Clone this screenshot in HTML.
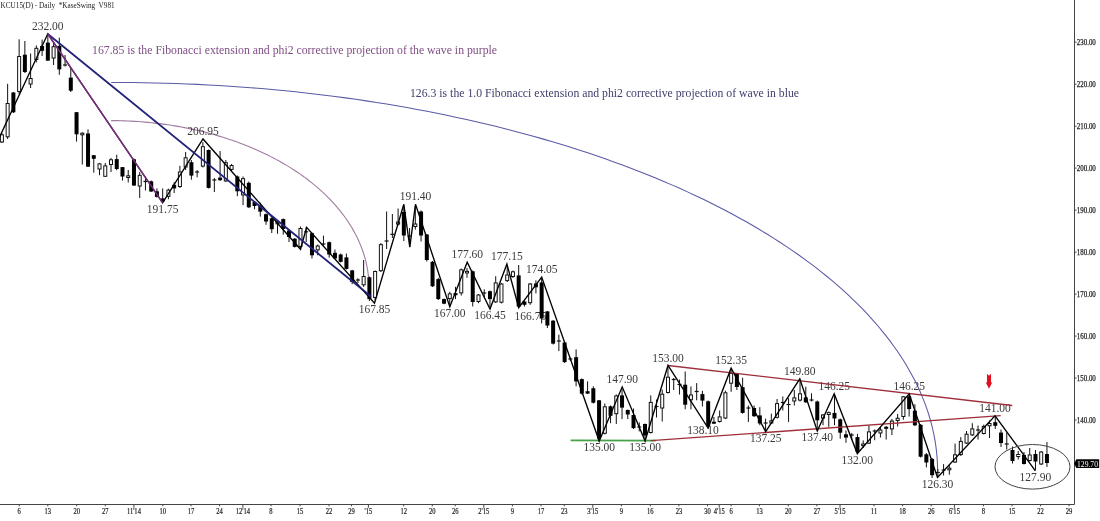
<!DOCTYPE html><html><head><meta charset="utf-8"><style>html,body{margin:0;padding:0;background:#fff;overflow:hidden}svg{display:block;will-change:transform} text{font-family:"Liberation Serif",serif}</style></head><body><svg width="1100" height="521" viewBox="0 0 1100 521"><rect width="1100" height="521" fill="#fff"/><text x="0.6" y="8.4" font-size="8.6" fill="#222" style="white-space:pre" textLength="114" lengthAdjust="spacingAndGlyphs">KCU15(D) - Daily  *KaseSwing  V981</text><text x="92" y="54" font-size="12" fill="#7e4e84" textLength="405" lengthAdjust="spacingAndGlyphs">167.85 is the Fibonacci extension and phi2 corrective projection of the wave in purple</text><text x="410" y="97" font-size="12" fill="#40406e" textLength="389" lengthAdjust="spacingAndGlyphs">126.3 is the 1.0 Fibonacci extension and phi2 corrective projection of wave in blue</text><polyline points="111.20,82.53 121.99,82.53 132.78,82.59 143.56,82.72 154.34,82.92 165.12,83.18 175.88,83.52 186.64,83.91 197.38,84.38 208.11,84.91 218.83,85.51 229.52,86.18 240.20,86.91 250.86,87.71 261.49,88.58 272.10,89.51 282.68,90.51 293.23,91.58 303.76,92.71 314.25,93.90 324.70,95.17 335.12,96.49 345.50,97.88 355.85,99.34 366.15,100.86 376.41,102.44 386.62,104.09 396.79,105.80 406.91,107.58 416.97,109.42 426.99,111.32 436.95,113.28 446.86,115.31 456.71,117.39 466.51,119.54 476.24,121.75 485.91,124.02 495.51,126.35 505.05,128.74 514.53,131.19 523.93,133.69 533.27,136.26 542.53,138.88 551.72,141.57 560.83,144.30 569.87,147.10 578.83,149.95 587.71,152.86 596.50,155.82 605.22,158.84 613.85,161.91 622.39,165.03 630.85,168.21 639.22,171.44 647.50,174.72 655.68,178.05 663.78,181.44 671.77,184.87 679.68,188.35 687.48,191.89 695.19,195.47 702.80,199.09 710.30,202.77 717.70,206.49 725.00,210.26 732.20,214.07 739.29,217.93 746.27,221.83 753.14,225.78 759.90,229.77 766.55,233.80 773.09,237.87 779.51,241.98 785.82,246.13 792.01,250.32 798.09,254.54 804.05,258.81 809.89,263.11 815.61,267.45 821.21,271.82 826.69,276.23 832.05,280.67 837.28,285.15 842.39,289.66 847.37,294.19 852.23,298.76 856.96,303.36 861.56,307.99 866.03,312.65 870.37,317.33 874.58,322.04 878.67,326.78 882.62,331.54 886.43,336.33 890.12,341.14 893.67,345.97 897.08,350.82 900.37,355.70 903.51,360.59 906.52,365.50 909.40,370.44 912.13,375.39 914.73,380.35 917.19,385.33 919.52,390.33 921.70,395.34 923.74,400.37 925.65,405.40 927.42,410.45 929.04,415.51 930.53,420.58 931.87,425.65 933.07,430.74 934.14,435.83 935.06,440.93 935.84,446.03 936.48,451.14 936.97,456.25 937.33,461.37 937.54,466.48 937.61,471.60" fill="none" stroke="#5a5aa6" stroke-width="1.05"/><polyline points="111.10,120.60 114.48,120.62 117.86,120.67 121.24,120.75 124.61,120.86 127.99,120.99 131.36,121.16 134.73,121.35 138.09,121.57 141.45,121.82 144.80,122.10 148.15,122.40 151.49,122.73 154.82,123.10 158.15,123.49 161.47,123.90 164.77,124.35 168.07,124.82 171.36,125.32 174.64,125.85 177.91,126.41 181.17,126.99 184.41,127.60 187.65,128.24 190.87,128.91 194.07,129.60 197.26,130.32 200.44,131.07 203.60,131.84 206.74,132.64 209.87,133.47 212.98,134.32 216.08,135.20 219.15,136.10 222.21,137.03 225.25,137.99 228.27,138.97 231.26,139.98 234.24,141.01 237.20,142.07 240.13,143.15 243.04,144.25 245.93,145.39 248.80,146.54 251.64,147.72 254.46,148.92 257.26,150.15 260.03,151.40 262.77,152.67 265.49,153.97 268.18,155.29 270.84,156.63 273.48,157.99 276.09,159.38 278.67,160.79 281.22,162.22 283.75,163.67 286.24,165.14 288.70,166.63 291.13,168.15 293.54,169.68 295.91,171.24 298.25,172.81 300.55,174.40 302.83,176.02 305.07,177.65 307.28,179.30 309.45,180.97 311.59,182.66 313.70,184.36 315.77,186.08 317.81,187.82 319.81,189.58 321.77,191.35 323.70,193.14 325.60,194.95 327.45,196.77 329.27,198.61 331.05,200.46 332.80,202.33 334.50,204.21 336.17,206.11 337.80,208.02 339.39,209.94 340.94,211.88 342.45,213.83 343.93,215.79 345.36,217.77 346.75,219.75 348.10,221.75 349.41,223.76 350.68,225.78 351.91,227.81 353.10,229.85 354.25,231.90 355.35,233.96 356.42,236.03 357.44,238.11 358.42,240.20 359.35,242.29 360.25,244.39 361.10,246.50 361.91,248.62 362.68,250.74 363.40,252.87 364.08,255.01 364.71,257.15 365.31,259.30 365.86,261.45 366.36,263.60 366.83,265.76 367.24,267.92 367.62,270.09 367.95,272.26 368.24,274.43 368.48,276.61 368.68,278.78 368.83,280.96 368.94,283.14 369.01,285.32 369.03,287.50" fill="none" stroke="#a07ca0" stroke-width="1.1"/><text x="47.8" y="30.0" font-size="11.5" fill="#3a3a3a" text-anchor="middle">232.00</text><text x="162.6" y="213.1" font-size="11.5" fill="#3a3a3a" text-anchor="middle">191.75</text><text x="203" y="135.2" font-size="11.5" fill="#3a3a3a" text-anchor="middle">206.95</text><text x="415.5" y="200.4" font-size="11.5" fill="#3a3a3a" text-anchor="middle">191.40</text><text x="374.5" y="313.4" font-size="11.5" fill="#3a3a3a" text-anchor="middle">167.85</text><text x="449.8" y="317.0" font-size="11.5" fill="#3a3a3a" text-anchor="middle">167.00</text><text x="467.2" y="258.4" font-size="11.5" fill="#3a3a3a" text-anchor="middle">177.60</text><text x="506.9" y="260.3" font-size="11.5" fill="#3a3a3a" text-anchor="middle">177.15</text><text x="490" y="319.3" font-size="11.5" fill="#3a3a3a" text-anchor="middle">166.45</text><text x="541.7" y="273.3" font-size="11.5" fill="#3a3a3a" text-anchor="middle">174.05</text><text x="530.4" y="319.7" font-size="11.5" fill="#3a3a3a" text-anchor="middle">166.75</text><text x="622.2" y="383.1" font-size="11.5" fill="#3a3a3a" text-anchor="middle">147.90</text><text x="599.2" y="451.3" font-size="11.5" fill="#3a3a3a" text-anchor="middle">135.00</text><text x="645.1" y="451.3" font-size="11.5" fill="#3a3a3a" text-anchor="middle">135.00</text><text x="668" y="361.6" font-size="11.5" fill="#3a3a3a" text-anchor="middle">153.00</text><text x="703" y="433.9" font-size="11.5" fill="#3a3a3a" text-anchor="middle">138.10</text><text x="731.1" y="364.4" font-size="11.5" fill="#3a3a3a" text-anchor="middle">152.35</text><text x="765.7" y="441.9" font-size="11.5" fill="#3a3a3a" text-anchor="middle">137.25</text><text x="799.8" y="375.1" font-size="11.5" fill="#3a3a3a" text-anchor="middle">149.80</text><text x="817.3" y="441.2" font-size="11.5" fill="#3a3a3a" text-anchor="middle">137.40</text><text x="834.2" y="390.0" font-size="11.5" fill="#3a3a3a" text-anchor="middle">146.25</text><text x="857.3" y="463.9" font-size="11.5" fill="#3a3a3a" text-anchor="middle">132.00</text><text x="909.2" y="390.0" font-size="11.5" fill="#3a3a3a" text-anchor="middle">146.25</text><text x="937.5" y="487.8" font-size="11.5" fill="#3a3a3a" text-anchor="middle">126.30</text><text x="995" y="412.0" font-size="11.5" fill="#3a3a3a" text-anchor="middle">141.00</text><text x="1035.4" y="481.1" font-size="11.5" fill="#3a3a3a" text-anchor="middle">127.90</text><g><line x1="1.90" y1="133.0" x2="1.90" y2="143.0" stroke="#111" stroke-width="1"/><rect x="0.40" y="134.80" width="3.0" height="7.20" fill="#fff" stroke="#111" stroke-width="1"/><line x1="7.64" y1="83.8" x2="7.64" y2="139.0" stroke="#111" stroke-width="1"/><rect x="6.14" y="103.50" width="3.0" height="33.30" fill="#fff" stroke="#111" stroke-width="1"/><line x1="13.38" y1="92.0" x2="13.38" y2="113.0" stroke="#111" stroke-width="1"/><rect x="11.38" y="92.50" width="4.0" height="19.80" fill="#000"/><line x1="19.13" y1="39.3" x2="19.13" y2="94.0" stroke="#111" stroke-width="1"/><rect x="17.63" y="56.50" width="3.0" height="35.00" fill="#fff" stroke="#111" stroke-width="1"/><line x1="24.87" y1="41.0" x2="24.87" y2="73.0" stroke="#111" stroke-width="1"/><rect x="22.87" y="54.70" width="4.0" height="17.30" fill="#000"/><line x1="30.61" y1="53.5" x2="30.61" y2="88.0" stroke="#111" stroke-width="1"/><rect x="29.11" y="78.50" width="3.0" height="5.50" fill="#fff" stroke="#111" stroke-width="1"/><line x1="36.35" y1="45.4" x2="36.35" y2="62.5" stroke="#111" stroke-width="1"/><rect x="34.85" y="48.30" width="3.0" height="11.20" fill="#fff" stroke="#111" stroke-width="1"/><line x1="42.09" y1="39.6" x2="42.09" y2="56.0" stroke="#111" stroke-width="1"/><rect x="40.09" y="45.90" width="4.0" height="4.90" fill="#000"/><line x1="47.84" y1="34.0" x2="47.84" y2="61.0" stroke="#111" stroke-width="1"/><rect x="45.84" y="42.60" width="4.0" height="18.00" fill="#000"/><line x1="53.58" y1="43.0" x2="53.58" y2="65.0" stroke="#111" stroke-width="1"/><rect x="52.08" y="46.70" width="3.0" height="11.30" fill="#fff" stroke="#111" stroke-width="1"/><line x1="59.32" y1="37.7" x2="59.32" y2="74.8" stroke="#111" stroke-width="1"/><rect x="57.32" y="45.90" width="4.0" height="23.50" fill="#000"/><line x1="65.06" y1="55.0" x2="65.06" y2="66.5" stroke="#111" stroke-width="1"/><line x1="63.06" y1="65.0" x2="67.06" y2="65.0" stroke="#111" stroke-width="1.2"/><line x1="70.80" y1="68.3" x2="70.80" y2="92.0" stroke="#111" stroke-width="1"/><rect x="68.80" y="77.60" width="4.0" height="13.10" fill="#000"/><line x1="76.55" y1="112.0" x2="76.55" y2="141.6" stroke="#111" stroke-width="1"/><rect x="74.55" y="112.20" width="4.0" height="22.10" fill="#000"/><line x1="82.29" y1="132.3" x2="82.29" y2="164.5" stroke="#111" stroke-width="1"/><rect x="80.79" y="133.20" width="3.0" height="1.60" fill="#fff" stroke="#111" stroke-width="1"/><line x1="88.03" y1="129.4" x2="88.03" y2="167.0" stroke="#111" stroke-width="1"/><rect x="86.03" y="133.50" width="4.0" height="33.20" fill="#000"/><line x1="93.77" y1="155.0" x2="93.77" y2="172.7" stroke="#111" stroke-width="1"/><rect x="91.77" y="155.20" width="4.0" height="3.60" fill="#000"/><line x1="99.51" y1="163.0" x2="99.51" y2="175.2" stroke="#111" stroke-width="1"/><rect x="98.01" y="163.90" width="3.0" height="5.10" fill="#fff" stroke="#111" stroke-width="1"/><line x1="105.26" y1="163.0" x2="105.26" y2="177.0" stroke="#111" stroke-width="1"/><rect x="103.76" y="165.90" width="3.0" height="10.40" fill="#fff" stroke="#111" stroke-width="1"/><line x1="111.00" y1="158.0" x2="111.00" y2="172.0" stroke="#111" stroke-width="1"/><rect x="109.50" y="159.80" width="3.0" height="4.70" fill="#fff" stroke="#111" stroke-width="1"/><line x1="116.74" y1="154.7" x2="116.74" y2="170.3" stroke="#111" stroke-width="1"/><rect x="114.74" y="159.10" width="4.0" height="9.90" fill="#000"/><line x1="122.48" y1="167.0" x2="122.48" y2="180.5" stroke="#111" stroke-width="1"/><rect x="120.48" y="167.10" width="4.0" height="9.40" fill="#000"/><line x1="128.22" y1="170.0" x2="128.22" y2="182.5" stroke="#111" stroke-width="1"/><rect x="126.72" y="175.80" width="3.0" height="1.70" fill="#fff" stroke="#111" stroke-width="1"/><line x1="133.97" y1="158.5" x2="133.97" y2="186.0" stroke="#111" stroke-width="1"/><rect x="131.97" y="159.30" width="4.0" height="26.20" fill="#000"/><line x1="139.71" y1="172.0" x2="139.71" y2="198.0" stroke="#111" stroke-width="1"/><rect x="138.21" y="175.30" width="3.0" height="10.70" fill="#fff" stroke="#111" stroke-width="1"/><line x1="145.45" y1="179.0" x2="145.45" y2="190.5" stroke="#111" stroke-width="1"/><line x1="143.45" y1="181.5" x2="147.45" y2="181.5" stroke="#111" stroke-width="1.2"/><line x1="151.19" y1="180.5" x2="151.19" y2="192.0" stroke="#111" stroke-width="1"/><rect x="149.19" y="181.30" width="4.0" height="10.20" fill="#000"/><line x1="156.93" y1="188.4" x2="156.93" y2="197.5" stroke="#111" stroke-width="1"/><rect x="154.93" y="191.30" width="4.0" height="5.60" fill="#000"/><line x1="162.68" y1="188.4" x2="162.68" y2="202.6" stroke="#111" stroke-width="1"/><rect x="160.68" y="198.40" width="4.0" height="3.10" fill="#000"/><line x1="168.42" y1="188.7" x2="168.42" y2="199.2" stroke="#111" stroke-width="1"/><rect x="166.92" y="190.10" width="3.0" height="6.30" fill="#fff" stroke="#111" stroke-width="1"/><line x1="174.16" y1="182.2" x2="174.16" y2="193.0" stroke="#111" stroke-width="1"/><rect x="172.16" y="184.80" width="4.0" height="3.60" fill="#000"/><line x1="179.90" y1="165.8" x2="179.90" y2="188.0" stroke="#111" stroke-width="1"/><rect x="178.40" y="172.00" width="3.0" height="14.50" fill="#fff" stroke="#111" stroke-width="1"/><line x1="185.64" y1="152.0" x2="185.64" y2="170.0" stroke="#111" stroke-width="1"/><rect x="184.14" y="157.80" width="3.0" height="9.20" fill="#fff" stroke="#111" stroke-width="1"/><line x1="191.39" y1="160.0" x2="191.39" y2="179.7" stroke="#111" stroke-width="1"/><rect x="189.39" y="162.20" width="4.0" height="13.40" fill="#000"/><line x1="197.13" y1="170.0" x2="197.13" y2="177.3" stroke="#111" stroke-width="1"/><line x1="195.13" y1="172.0" x2="199.13" y2="172.0" stroke="#111" stroke-width="1.2"/><line x1="202.87" y1="142.1" x2="202.87" y2="167.5" stroke="#111" stroke-width="1"/><rect x="201.37" y="146.70" width="3.0" height="19.40" fill="#fff" stroke="#111" stroke-width="1"/><line x1="208.61" y1="149.5" x2="208.61" y2="188.5" stroke="#111" stroke-width="1"/><rect x="206.61" y="150.00" width="4.0" height="37.90" fill="#000"/><line x1="214.35" y1="178.0" x2="214.35" y2="192.0" stroke="#111" stroke-width="1"/><line x1="212.35" y1="180.0" x2="216.35" y2="180.0" stroke="#111" stroke-width="1.2"/><line x1="220.10" y1="151.0" x2="220.10" y2="181.0" stroke="#111" stroke-width="1"/><rect x="218.10" y="177.60" width="4.0" height="2.60" fill="#000"/><line x1="225.84" y1="160.0" x2="225.84" y2="182.0" stroke="#111" stroke-width="1"/><rect x="224.34" y="162.70" width="3.0" height="18.20" fill="#fff" stroke="#111" stroke-width="1"/><line x1="231.58" y1="164.0" x2="231.58" y2="171.0" stroke="#111" stroke-width="1"/><rect x="230.08" y="165.50" width="3.0" height="3.90" fill="#fff" stroke="#111" stroke-width="1"/><line x1="237.32" y1="175.5" x2="237.32" y2="196.2" stroke="#111" stroke-width="1"/><rect x="235.32" y="176.50" width="4.0" height="14.80" fill="#000"/><line x1="243.06" y1="176.5" x2="243.06" y2="205.2" stroke="#111" stroke-width="1"/><rect x="241.56" y="178.70" width="3.0" height="16.20" fill="#fff" stroke="#111" stroke-width="1"/><line x1="248.81" y1="181.5" x2="248.81" y2="208.0" stroke="#111" stroke-width="1"/><rect x="246.81" y="182.80" width="4.0" height="24.50" fill="#000"/><line x1="254.55" y1="201.0" x2="254.55" y2="209.3" stroke="#111" stroke-width="1"/><rect x="252.55" y="201.90" width="4.0" height="4.10" fill="#000"/><line x1="260.29" y1="202.7" x2="260.29" y2="216.6" stroke="#111" stroke-width="1"/><rect x="258.29" y="206.00" width="4.0" height="5.70" fill="#000"/><line x1="266.03" y1="213.5" x2="266.03" y2="224.8" stroke="#111" stroke-width="1"/><rect x="264.03" y="214.20" width="4.0" height="7.30" fill="#000"/><line x1="271.77" y1="217.5" x2="271.77" y2="233.0" stroke="#111" stroke-width="1"/><rect x="269.77" y="218.30" width="4.0" height="10.90" fill="#000"/><line x1="277.52" y1="220.7" x2="277.52" y2="233.8" stroke="#111" stroke-width="1"/><rect x="276.02" y="222.20" width="3.0" height="1.60" fill="#fff" stroke="#111" stroke-width="1"/><line x1="283.26" y1="218.5" x2="283.26" y2="234.6" stroke="#111" stroke-width="1"/><rect x="281.26" y="219.10" width="4.0" height="9.80" fill="#000"/><line x1="289.00" y1="229.5" x2="289.00" y2="242.0" stroke="#111" stroke-width="1"/><rect x="287.00" y="230.50" width="4.0" height="6.50" fill="#000"/><line x1="294.74" y1="238.0" x2="294.74" y2="247.5" stroke="#111" stroke-width="1"/><rect x="292.74" y="238.70" width="4.0" height="8.20" fill="#000"/><line x1="300.48" y1="226.5" x2="300.48" y2="249.4" stroke="#111" stroke-width="1"/><rect x="298.98" y="228.50" width="3.0" height="18.00" fill="#fff" stroke="#111" stroke-width="1"/><line x1="306.23" y1="227.3" x2="306.23" y2="242.0" stroke="#111" stroke-width="1"/><line x1="304.23" y1="231.8" x2="308.23" y2="231.8" stroke="#111" stroke-width="1.2"/><line x1="311.97" y1="232.5" x2="311.97" y2="258.5" stroke="#111" stroke-width="1"/><rect x="309.97" y="233.20" width="4.0" height="22.10" fill="#000"/><line x1="317.71" y1="244.5" x2="317.71" y2="255.3" stroke="#111" stroke-width="1"/><rect x="316.21" y="246.00" width="3.0" height="3.90" fill="#fff" stroke="#111" stroke-width="1"/><line x1="323.45" y1="235.6" x2="323.45" y2="245.5" stroke="#111" stroke-width="1"/><line x1="321.45" y1="244.0" x2="325.45" y2="244.0" stroke="#111" stroke-width="1.2"/><line x1="329.19" y1="241.5" x2="329.19" y2="257.7" stroke="#111" stroke-width="1"/><rect x="327.19" y="242.20" width="4.0" height="12.30" fill="#000"/><line x1="334.94" y1="249.5" x2="334.94" y2="259.0" stroke="#111" stroke-width="1"/><rect x="332.94" y="252.80" width="4.0" height="5.70" fill="#000"/><line x1="340.68" y1="253.5" x2="340.68" y2="262.5" stroke="#111" stroke-width="1"/><rect x="338.68" y="254.50" width="4.0" height="7.30" fill="#000"/><line x1="346.42" y1="253.6" x2="346.42" y2="269.5" stroke="#111" stroke-width="1"/><rect x="344.42" y="257.40" width="4.0" height="11.50" fill="#000"/><line x1="352.16" y1="269.8" x2="352.16" y2="284.2" stroke="#111" stroke-width="1"/><rect x="350.16" y="270.40" width="4.0" height="11.60" fill="#000"/><line x1="357.90" y1="278.2" x2="357.90" y2="283.0" stroke="#111" stroke-width="1"/><line x1="355.90" y1="280.0" x2="359.90" y2="280.0" stroke="#111" stroke-width="1.2"/><line x1="363.65" y1="260.0" x2="363.65" y2="286.9" stroke="#111" stroke-width="1"/><rect x="362.15" y="276.50" width="3.0" height="8.30" fill="#fff" stroke="#111" stroke-width="1"/><line x1="369.39" y1="276.5" x2="369.39" y2="301.0" stroke="#111" stroke-width="1"/><rect x="367.39" y="277.30" width="4.0" height="21.80" fill="#000"/><line x1="375.13" y1="270.5" x2="375.13" y2="300.3" stroke="#111" stroke-width="1"/><rect x="373.63" y="271.50" width="3.0" height="26.00" fill="#fff" stroke="#111" stroke-width="1"/><line x1="380.87" y1="243.0" x2="380.87" y2="272.0" stroke="#111" stroke-width="1"/><rect x="379.37" y="244.70" width="3.0" height="26.00" fill="#fff" stroke="#111" stroke-width="1"/><line x1="386.61" y1="211.5" x2="386.61" y2="249.0" stroke="#111" stroke-width="1"/><line x1="384.61" y1="241.0" x2="388.61" y2="241.0" stroke="#111" stroke-width="1.2"/><line x1="392.36" y1="214.0" x2="392.36" y2="238.0" stroke="#111" stroke-width="1"/><line x1="390.36" y1="234.3" x2="394.36" y2="234.3" stroke="#111" stroke-width="1.2"/><line x1="398.10" y1="208.5" x2="398.10" y2="225.5" stroke="#111" stroke-width="1"/><rect x="396.60" y="222.00" width="3.0" height="2.10" fill="#fff" stroke="#111" stroke-width="1"/><line x1="403.84" y1="205.0" x2="403.84" y2="241.0" stroke="#111" stroke-width="1"/><rect x="401.84" y="212.00" width="4.0" height="23.50" fill="#000"/><line x1="409.58" y1="228.0" x2="409.58" y2="247.0" stroke="#111" stroke-width="1"/><line x1="407.58" y1="236.0" x2="411.58" y2="236.0" stroke="#111" stroke-width="1.2"/><line x1="415.32" y1="206.0" x2="415.32" y2="229.5" stroke="#111" stroke-width="1"/><rect x="413.82" y="224.00" width="3.0" height="2.50" fill="#fff" stroke="#111" stroke-width="1"/><line x1="421.07" y1="210.5" x2="421.07" y2="241.5" stroke="#111" stroke-width="1"/><rect x="419.07" y="211.50" width="4.0" height="24.00" fill="#000"/><line x1="426.81" y1="234.0" x2="426.81" y2="261.5" stroke="#111" stroke-width="1"/><rect x="424.81" y="234.50" width="4.0" height="25.50" fill="#000"/><line x1="432.55" y1="261.0" x2="432.55" y2="287.0" stroke="#111" stroke-width="1"/><rect x="430.55" y="261.80" width="4.0" height="24.50" fill="#000"/><line x1="438.29" y1="277.8" x2="438.29" y2="300.0" stroke="#111" stroke-width="1"/><rect x="436.29" y="279.10" width="4.0" height="20.00" fill="#000"/><line x1="444.03" y1="298.5" x2="444.03" y2="304.2" stroke="#111" stroke-width="1"/><rect x="442.03" y="299.10" width="4.0" height="4.60" fill="#000"/><line x1="449.78" y1="291.7" x2="449.78" y2="307.0" stroke="#111" stroke-width="1"/><rect x="448.28" y="293.90" width="3.0" height="4.70" fill="#fff" stroke="#111" stroke-width="1"/><line x1="455.52" y1="286.8" x2="455.52" y2="299.1" stroke="#111" stroke-width="1"/><rect x="453.52" y="293.20" width="4.0" height="2.00" fill="#000"/><line x1="461.26" y1="268.5" x2="461.26" y2="295.5" stroke="#111" stroke-width="1"/><rect x="459.76" y="269.80" width="3.0" height="23.10" fill="#fff" stroke="#111" stroke-width="1"/><line x1="467.00" y1="268.0" x2="467.00" y2="277.8" stroke="#111" stroke-width="1"/><rect x="465.50" y="271.35" width="3.0" height="1.60" fill="#fff" stroke="#111" stroke-width="1"/><line x1="472.74" y1="270.5" x2="472.74" y2="306.5" stroke="#111" stroke-width="1"/><rect x="470.74" y="271.30" width="4.0" height="30.70" fill="#000"/><line x1="478.49" y1="294.0" x2="478.49" y2="303.2" stroke="#111" stroke-width="1"/><rect x="476.99" y="295.00" width="3.0" height="6.50" fill="#fff" stroke="#111" stroke-width="1"/><line x1="484.23" y1="289.3" x2="484.23" y2="297.5" stroke="#111" stroke-width="1"/><line x1="482.23" y1="293.0" x2="486.23" y2="293.0" stroke="#111" stroke-width="1.2"/><line x1="489.97" y1="290.5" x2="489.97" y2="309.0" stroke="#111" stroke-width="1"/><rect x="487.97" y="291.20" width="4.0" height="7.90" fill="#000"/><line x1="495.71" y1="276.2" x2="495.71" y2="303.0" stroke="#111" stroke-width="1"/><rect x="494.21" y="282.90" width="3.0" height="19.00" fill="#fff" stroke="#111" stroke-width="1"/><line x1="501.45" y1="283.0" x2="501.45" y2="303.5" stroke="#111" stroke-width="1"/><rect x="499.95" y="284.00" width="3.0" height="18.20" fill="#fff" stroke="#111" stroke-width="1"/><line x1="507.20" y1="265.5" x2="507.20" y2="282.0" stroke="#111" stroke-width="1"/><rect x="505.70" y="275.00" width="3.0" height="5.60" fill="#fff" stroke="#111" stroke-width="1"/><line x1="512.94" y1="270.5" x2="512.94" y2="278.0" stroke="#111" stroke-width="1"/><rect x="511.44" y="271.80" width="3.0" height="4.70" fill="#fff" stroke="#111" stroke-width="1"/><line x1="518.68" y1="265.0" x2="518.68" y2="307.0" stroke="#111" stroke-width="1"/><rect x="516.68" y="275.40" width="4.0" height="31.10" fill="#000"/><line x1="524.42" y1="301.0" x2="524.42" y2="306.5" stroke="#111" stroke-width="1"/><rect x="522.42" y="301.50" width="4.0" height="3.30" fill="#000"/><line x1="530.16" y1="283.0" x2="530.16" y2="304.8" stroke="#111" stroke-width="1"/><rect x="528.66" y="284.00" width="3.0" height="18.70" fill="#fff" stroke="#111" stroke-width="1"/><line x1="535.91" y1="280.3" x2="535.91" y2="293.4" stroke="#111" stroke-width="1"/><rect x="533.91" y="283.50" width="4.0" height="3.80" fill="#000"/><line x1="541.65" y1="277.8" x2="541.65" y2="323.4" stroke="#111" stroke-width="1"/><rect x="539.65" y="282.40" width="4.0" height="36.10" fill="#000"/><line x1="547.39" y1="311.0" x2="547.39" y2="328.0" stroke="#111" stroke-width="1"/><rect x="545.39" y="311.40" width="4.0" height="14.10" fill="#000"/><line x1="553.13" y1="320.0" x2="553.13" y2="344.5" stroke="#111" stroke-width="1"/><rect x="551.13" y="320.70" width="4.0" height="22.90" fill="#000"/><line x1="558.87" y1="334.6" x2="558.87" y2="351.0" stroke="#111" stroke-width="1"/><line x1="556.87" y1="341.0" x2="560.87" y2="341.0" stroke="#111" stroke-width="1.2"/><line x1="564.62" y1="342.0" x2="564.62" y2="363.0" stroke="#111" stroke-width="1"/><rect x="562.62" y="342.50" width="4.0" height="19.60" fill="#000"/><line x1="570.36" y1="357.5" x2="570.36" y2="361.0" stroke="#111" stroke-width="1"/><line x1="568.36" y1="359.0" x2="572.36" y2="359.0" stroke="#111" stroke-width="1.2"/><line x1="576.10" y1="349.4" x2="576.10" y2="386.3" stroke="#111" stroke-width="1"/><rect x="574.10" y="357.20" width="4.0" height="24.20" fill="#000"/><line x1="581.84" y1="378.5" x2="581.84" y2="394.5" stroke="#111" stroke-width="1"/><rect x="579.84" y="379.10" width="4.0" height="14.50" fill="#000"/><line x1="587.58" y1="381.4" x2="587.58" y2="394.0" stroke="#111" stroke-width="1"/><rect x="585.58" y="391.20" width="4.0" height="2.40" fill="#000"/><line x1="593.33" y1="386.3" x2="593.33" y2="403.5" stroke="#111" stroke-width="1"/><rect x="591.33" y="388.30" width="4.0" height="14.40" fill="#000"/><line x1="599.07" y1="400.0" x2="599.07" y2="441.6" stroke="#111" stroke-width="1"/><rect x="597.07" y="400.30" width="4.0" height="38.40" fill="#000"/><line x1="604.81" y1="403.5" x2="604.81" y2="434.5" stroke="#111" stroke-width="1"/><rect x="603.31" y="406.80" width="3.0" height="26.50" fill="#fff" stroke="#111" stroke-width="1"/><line x1="610.55" y1="405.5" x2="610.55" y2="423.2" stroke="#111" stroke-width="1"/><rect x="608.55" y="406.30" width="4.0" height="9.50" fill="#000"/><line x1="616.29" y1="394.5" x2="616.29" y2="424.0" stroke="#111" stroke-width="1"/><rect x="614.79" y="395.90" width="3.0" height="17.80" fill="#fff" stroke="#111" stroke-width="1"/><line x1="622.04" y1="388.8" x2="622.04" y2="419.1" stroke="#111" stroke-width="1"/><rect x="620.04" y="395.40" width="4.0" height="12.20" fill="#000"/><line x1="627.78" y1="409.5" x2="627.78" y2="419.0" stroke="#111" stroke-width="1"/><rect x="625.78" y="410.00" width="4.0" height="4.50" fill="#000"/><line x1="633.52" y1="408.5" x2="633.52" y2="429.0" stroke="#111" stroke-width="1"/><rect x="631.52" y="415.00" width="4.0" height="13.10" fill="#000"/><line x1="639.26" y1="422.4" x2="639.26" y2="431.4" stroke="#111" stroke-width="1"/><line x1="637.26" y1="427.0" x2="641.26" y2="427.0" stroke="#111" stroke-width="1.2"/><line x1="645.00" y1="423.5" x2="645.00" y2="441.6" stroke="#111" stroke-width="1"/><rect x="643.00" y="424.00" width="4.0" height="11.50" fill="#000"/><line x1="650.75" y1="395.4" x2="650.75" y2="433.5" stroke="#111" stroke-width="1"/><rect x="649.25" y="402.40" width="3.0" height="30.10" fill="#fff" stroke="#111" stroke-width="1"/><line x1="656.49" y1="399.5" x2="656.49" y2="417.5" stroke="#111" stroke-width="1"/><line x1="654.49" y1="406.5" x2="658.49" y2="406.5" stroke="#111" stroke-width="1.2"/><line x1="662.23" y1="389.6" x2="662.23" y2="421.5" stroke="#111" stroke-width="1"/><rect x="660.73" y="394.20" width="3.0" height="13.80" fill="#fff" stroke="#111" stroke-width="1"/><line x1="667.97" y1="366.0" x2="667.97" y2="393.5" stroke="#111" stroke-width="1"/><rect x="666.47" y="377.20" width="3.0" height="15.30" fill="#fff" stroke="#111" stroke-width="1"/><line x1="673.71" y1="378.0" x2="673.71" y2="390.0" stroke="#111" stroke-width="1"/><line x1="671.71" y1="379.5" x2="675.71" y2="379.5" stroke="#111" stroke-width="1.2"/><line x1="679.46" y1="379.6" x2="679.46" y2="394.5" stroke="#111" stroke-width="1"/><line x1="677.46" y1="384.5" x2="681.46" y2="384.5" stroke="#111" stroke-width="1.2"/><line x1="685.20" y1="371.5" x2="685.20" y2="409.3" stroke="#111" stroke-width="1"/><rect x="683.20" y="384.70" width="4.0" height="20.00" fill="#000"/><line x1="690.94" y1="386.4" x2="690.94" y2="409.3" stroke="#111" stroke-width="1"/><rect x="689.44" y="395.00" width="3.0" height="4.80" fill="#fff" stroke="#111" stroke-width="1"/><line x1="696.68" y1="383.1" x2="696.68" y2="400.3" stroke="#111" stroke-width="1"/><line x1="694.68" y1="391.5" x2="698.68" y2="391.5" stroke="#111" stroke-width="1.2"/><line x1="702.42" y1="390.8" x2="702.42" y2="406.4" stroke="#111" stroke-width="1"/><rect x="700.42" y="394.10" width="4.0" height="6.50" fill="#000"/><line x1="708.17" y1="400.5" x2="708.17" y2="428.6" stroke="#111" stroke-width="1"/><rect x="706.17" y="401.30" width="4.0" height="25.20" fill="#000"/><line x1="713.91" y1="417.0" x2="713.91" y2="424.0" stroke="#111" stroke-width="1"/><rect x="711.91" y="421.70" width="4.0" height="2.00" fill="#000"/><line x1="719.65" y1="410.5" x2="719.65" y2="422.5" stroke="#111" stroke-width="1"/><rect x="718.15" y="416.90" width="3.0" height="4.60" fill="#fff" stroke="#111" stroke-width="1"/><line x1="725.39" y1="390.6" x2="725.39" y2="419.0" stroke="#111" stroke-width="1"/><rect x="723.89" y="392.80" width="3.0" height="25.20" fill="#fff" stroke="#111" stroke-width="1"/><line x1="731.13" y1="368.7" x2="731.13" y2="391.8" stroke="#111" stroke-width="1"/><rect x="729.63" y="373.50" width="3.0" height="9.70" fill="#fff" stroke="#111" stroke-width="1"/><line x1="736.88" y1="373.0" x2="736.88" y2="390.0" stroke="#111" stroke-width="1"/><rect x="734.88" y="374.00" width="4.0" height="13.00" fill="#000"/><line x1="742.62" y1="377.7" x2="742.62" y2="413.7" stroke="#111" stroke-width="1"/><rect x="740.62" y="387.20" width="4.0" height="25.70" fill="#000"/><line x1="748.36" y1="405.5" x2="748.36" y2="421.9" stroke="#111" stroke-width="1"/><line x1="746.36" y1="408.0" x2="750.36" y2="408.0" stroke="#111" stroke-width="1.2"/><line x1="754.10" y1="405.5" x2="754.10" y2="417.0" stroke="#111" stroke-width="1"/><rect x="752.10" y="408.00" width="4.0" height="8.20" fill="#000"/><line x1="759.84" y1="407.2" x2="759.84" y2="425.2" stroke="#111" stroke-width="1"/><rect x="757.84" y="415.40" width="4.0" height="8.10" fill="#000"/><line x1="765.59" y1="418.6" x2="765.59" y2="432.0" stroke="#111" stroke-width="1"/><line x1="763.59" y1="423.0" x2="767.59" y2="423.0" stroke="#111" stroke-width="1.2"/><line x1="771.33" y1="413.7" x2="771.33" y2="424.0" stroke="#111" stroke-width="1"/><rect x="769.83" y="420.80" width="3.0" height="2.20" fill="#fff" stroke="#111" stroke-width="1"/><line x1="777.07" y1="399.0" x2="777.07" y2="418.5" stroke="#111" stroke-width="1"/><rect x="775.57" y="403.60" width="3.0" height="13.70" fill="#fff" stroke="#111" stroke-width="1"/><line x1="782.81" y1="396.5" x2="782.81" y2="410.5" stroke="#111" stroke-width="1"/><line x1="780.81" y1="402.5" x2="784.81" y2="402.5" stroke="#111" stroke-width="1.2"/><line x1="788.55" y1="398.2" x2="788.55" y2="421.9" stroke="#111" stroke-width="1"/><line x1="786.55" y1="404.5" x2="790.55" y2="404.5" stroke="#111" stroke-width="1.2"/><line x1="794.30" y1="390.0" x2="794.30" y2="405.5" stroke="#111" stroke-width="1"/><rect x="792.80" y="397.90" width="3.0" height="3.10" fill="#fff" stroke="#111" stroke-width="1"/><line x1="800.04" y1="379.4" x2="800.04" y2="401.5" stroke="#111" stroke-width="1"/><rect x="798.54" y="393.80" width="3.0" height="6.30" fill="#fff" stroke="#111" stroke-width="1"/><line x1="805.78" y1="386.7" x2="805.78" y2="403.0" stroke="#111" stroke-width="1"/><rect x="803.78" y="397.40" width="4.0" height="4.90" fill="#000"/><line x1="811.52" y1="393.3" x2="811.52" y2="401.5" stroke="#111" stroke-width="1"/><line x1="809.52" y1="400.0" x2="813.52" y2="400.0" stroke="#111" stroke-width="1.2"/><line x1="817.26" y1="400.5" x2="817.26" y2="431.0" stroke="#111" stroke-width="1"/><rect x="815.26" y="401.50" width="4.0" height="18.80" fill="#000"/><line x1="823.01" y1="414.0" x2="823.01" y2="425.2" stroke="#111" stroke-width="1"/><rect x="821.51" y="415.00" width="3.0" height="3.10" fill="#fff" stroke="#111" stroke-width="1"/><line x1="828.75" y1="411.5" x2="828.75" y2="426.8" stroke="#111" stroke-width="1"/><rect x="827.25" y="412.60" width="3.0" height="1.90" fill="#fff" stroke="#111" stroke-width="1"/><line x1="834.49" y1="394.3" x2="834.49" y2="425.2" stroke="#111" stroke-width="1"/><rect x="832.49" y="412.90" width="4.0" height="5.60" fill="#000"/><line x1="840.23" y1="418.5" x2="840.23" y2="438.7" stroke="#111" stroke-width="1"/><rect x="838.23" y="419.30" width="4.0" height="13.40" fill="#000"/><line x1="845.97" y1="430.5" x2="845.97" y2="442.8" stroke="#111" stroke-width="1"/><rect x="843.97" y="434.30" width="4.0" height="3.30" fill="#000"/><line x1="851.72" y1="433.0" x2="851.72" y2="439.5" stroke="#111" stroke-width="1"/><line x1="849.72" y1="435.0" x2="853.72" y2="435.0" stroke="#111" stroke-width="1.2"/><line x1="857.46" y1="433.8" x2="857.46" y2="454.2" stroke="#111" stroke-width="1"/><rect x="855.46" y="437.10" width="4.0" height="14.70" fill="#000"/><line x1="863.20" y1="440.4" x2="863.20" y2="448.0" stroke="#111" stroke-width="1"/><rect x="861.70" y="444.05" width="3.0" height="1.60" fill="#fff" stroke="#111" stroke-width="1"/><line x1="868.94" y1="425.6" x2="868.94" y2="444.0" stroke="#111" stroke-width="1"/><rect x="867.44" y="431.90" width="3.0" height="11.20" fill="#fff" stroke="#111" stroke-width="1"/><line x1="874.68" y1="429.5" x2="874.68" y2="440.2" stroke="#111" stroke-width="1"/><line x1="872.68" y1="431.0" x2="876.68" y2="431.0" stroke="#111" stroke-width="1.2"/><line x1="880.43" y1="427.0" x2="880.43" y2="437.5" stroke="#111" stroke-width="1"/><rect x="878.93" y="430.00" width="3.0" height="3.00" fill="#fff" stroke="#111" stroke-width="1"/><line x1="886.17" y1="426.0" x2="886.17" y2="439.5" stroke="#111" stroke-width="1"/><rect x="884.17" y="426.80" width="4.0" height="2.00" fill="#000"/><line x1="891.91" y1="418.9" x2="891.91" y2="435.0" stroke="#111" stroke-width="1"/><rect x="890.41" y="421.10" width="3.0" height="7.80" fill="#fff" stroke="#111" stroke-width="1"/><line x1="897.65" y1="414.0" x2="897.65" y2="426.4" stroke="#111" stroke-width="1"/><rect x="896.15" y="418.30" width="3.0" height="2.20" fill="#fff" stroke="#111" stroke-width="1"/><line x1="903.39" y1="396.0" x2="903.39" y2="419.7" stroke="#111" stroke-width="1"/><rect x="901.89" y="396.80" width="3.0" height="19.70" fill="#fff" stroke="#111" stroke-width="1"/><line x1="909.14" y1="393.5" x2="909.14" y2="416.5" stroke="#111" stroke-width="1"/><rect x="907.14" y="396.30" width="4.0" height="12.80" fill="#000"/><line x1="914.88" y1="404.2" x2="914.88" y2="426.0" stroke="#111" stroke-width="1"/><rect x="912.88" y="410.70" width="4.0" height="14.60" fill="#000"/><line x1="920.62" y1="424.0" x2="920.62" y2="457.5" stroke="#111" stroke-width="1"/><rect x="918.62" y="424.80" width="4.0" height="31.90" fill="#000"/><line x1="926.36" y1="453.0" x2="926.36" y2="467.4" stroke="#111" stroke-width="1"/><rect x="924.36" y="454.30" width="4.0" height="8.20" fill="#000"/><line x1="932.10" y1="458.0" x2="932.10" y2="478.0" stroke="#111" stroke-width="1"/><rect x="930.10" y="458.90" width="4.0" height="16.30" fill="#000"/><line x1="937.85" y1="469.0" x2="937.85" y2="476.5" stroke="#111" stroke-width="1"/><line x1="935.85" y1="472.5" x2="939.85" y2="472.5" stroke="#111" stroke-width="1.2"/><line x1="943.59" y1="464.1" x2="943.59" y2="475.5" stroke="#111" stroke-width="1"/><line x1="941.59" y1="470.0" x2="945.59" y2="470.0" stroke="#111" stroke-width="1.2"/><line x1="949.33" y1="465.0" x2="949.33" y2="474.7" stroke="#111" stroke-width="1"/><rect x="947.83" y="468.20" width="3.0" height="1.60" fill="#fff" stroke="#111" stroke-width="1"/><line x1="955.07" y1="443.6" x2="955.07" y2="463.0" stroke="#111" stroke-width="1"/><rect x="953.57" y="454.80" width="3.0" height="7.20" fill="#fff" stroke="#111" stroke-width="1"/><line x1="960.81" y1="437.1" x2="960.81" y2="456.0" stroke="#111" stroke-width="1"/><rect x="959.31" y="441.40" width="3.0" height="13.20" fill="#fff" stroke="#111" stroke-width="1"/><line x1="966.56" y1="431.0" x2="966.56" y2="444.0" stroke="#111" stroke-width="1"/><rect x="965.06" y="434.20" width="3.0" height="8.90" fill="#fff" stroke="#111" stroke-width="1"/><line x1="972.30" y1="423.2" x2="972.30" y2="436.0" stroke="#111" stroke-width="1"/><rect x="970.80" y="428.90" width="3.0" height="6.00" fill="#fff" stroke="#111" stroke-width="1"/><line x1="978.04" y1="425.5" x2="978.04" y2="439.5" stroke="#111" stroke-width="1"/><line x1="976.04" y1="430.0" x2="980.04" y2="430.0" stroke="#111" stroke-width="1.2"/><line x1="983.78" y1="424.6" x2="983.78" y2="434.5" stroke="#111" stroke-width="1"/><rect x="982.28" y="426.40" width="3.0" height="7.10" fill="#fff" stroke="#111" stroke-width="1"/><line x1="989.52" y1="420.5" x2="989.52" y2="438.0" stroke="#111" stroke-width="1"/><rect x="988.02" y="423.50" width="3.0" height="2.30" fill="#fff" stroke="#111" stroke-width="1"/><line x1="995.27" y1="417.0" x2="995.27" y2="429.0" stroke="#111" stroke-width="1"/><rect x="993.27" y="422.20" width="4.0" height="3.60" fill="#000"/><line x1="1001.01" y1="429.5" x2="1001.01" y2="447.0" stroke="#111" stroke-width="1"/><rect x="999.01" y="432.60" width="4.0" height="10.40" fill="#000"/><line x1="1006.75" y1="432.5" x2="1006.75" y2="449.5" stroke="#111" stroke-width="1"/><line x1="1004.75" y1="444.0" x2="1008.75" y2="444.0" stroke="#111" stroke-width="1.2"/><line x1="1012.49" y1="446.5" x2="1012.49" y2="463.5" stroke="#111" stroke-width="1"/><rect x="1010.49" y="450.00" width="4.0" height="11.00" fill="#000"/><line x1="1018.23" y1="451.0" x2="1018.23" y2="459.5" stroke="#111" stroke-width="1"/><rect x="1016.73" y="454.50" width="3.0" height="2.00" fill="#fff" stroke="#111" stroke-width="1"/><line x1="1023.98" y1="452.0" x2="1023.98" y2="464.5" stroke="#111" stroke-width="1"/><rect x="1021.98" y="455.00" width="4.0" height="9.00" fill="#000"/><line x1="1029.72" y1="448.0" x2="1029.72" y2="461.5" stroke="#111" stroke-width="1"/><rect x="1028.22" y="455.00" width="3.0" height="5.50" fill="#fff" stroke="#111" stroke-width="1"/><line x1="1035.46" y1="450.0" x2="1035.46" y2="470.0" stroke="#111" stroke-width="1"/><rect x="1033.46" y="454.00" width="4.0" height="7.50" fill="#000"/><line x1="1041.20" y1="451.0" x2="1041.20" y2="465.0" stroke="#111" stroke-width="1"/><rect x="1039.70" y="452.00" width="3.0" height="12.00" fill="#fff" stroke="#111" stroke-width="1"/><line x1="1046.94" y1="442.0" x2="1046.94" y2="467.0" stroke="#111" stroke-width="1"/><rect x="1044.94" y="454.00" width="4.0" height="9.00" fill="#000"/></g><line x1="570.6" y1="440.3" x2="655.7" y2="440.6" stroke="#48a048" stroke-width="1.7"/><line x1="668" y1="365.5" x2="1012.2" y2="405.5" stroke="#9e2f3a" stroke-width="1.35"/><line x1="650.8" y1="440.7" x2="1000.7" y2="415.6" stroke="#9e2f3a" stroke-width="1.35"/><polyline points="-3,142.5 47.8,33.8 162.6,202.77 203,138.96 300.5,249.3 306.6,227.4 374.5,303.11 403.8,204.24 409.8,247.2 415.5,204.24 449.8,306.67 467.2,262.18 490,308.98 506.9,264.06 518.7,307.72 541.7,277.08 599.2,441.01 622.2,386.86 645.1,441.01 668,365.45 708.1,428.0 731.1,368.17 765.7,431.56 799.8,378.88 817.3,430.93 834.2,393.78 857.3,453.6 909.2,393.78 937.5,477.53 995,415.82 1035.4,470.82" fill="none" stroke="#000" stroke-width="1.35" stroke-linejoin="miter"/><line x1="47.8" y1="34" x2="371" y2="296.5" stroke="#222278" stroke-width="1.8"/><line x1="47.8" y1="34" x2="162.6" y2="202.6" stroke="#7c2e82" stroke-width="1.4"/><ellipse cx="1032.5" cy="466.8" rx="37.5" ry="22.3" fill="none" stroke="#444" stroke-width="1"/><path d="M987,373.8 L989,375.8 L991,373.8 L991,382.6 L992.2,382.6 L989,388.8 L985.8,382.6 L987,382.6 Z" fill="#e0101e"/><line x1="1074.5" y1="0" x2="1074.5" y2="504.5" stroke="#444" stroke-width="1"/><line x1="0" y1="504.5" x2="1074.5" y2="504.5" stroke="#444" stroke-width="1"/><line x1="1074.5" y1="420.0" x2="1076.6" y2="420.0" stroke="#444" stroke-width="1"/><text x="1076.8" y="422.7" font-size="8.6" fill="#222" stroke="#222" stroke-width="0.25" textLength="19" lengthAdjust="spacingAndGlyphs">140.00</text><line x1="1074.5" y1="378.0" x2="1076.6" y2="378.0" stroke="#444" stroke-width="1"/><text x="1076.8" y="380.7" font-size="8.6" fill="#222" stroke="#222" stroke-width="0.25" textLength="19" lengthAdjust="spacingAndGlyphs">150.00</text><line x1="1074.5" y1="336.1" x2="1076.6" y2="336.1" stroke="#444" stroke-width="1"/><text x="1076.8" y="338.8" font-size="8.6" fill="#222" stroke="#222" stroke-width="0.25" textLength="19" lengthAdjust="spacingAndGlyphs">160.00</text><line x1="1074.5" y1="294.1" x2="1076.6" y2="294.1" stroke="#444" stroke-width="1"/><text x="1076.8" y="296.8" font-size="8.6" fill="#222" stroke="#222" stroke-width="0.25" textLength="19" lengthAdjust="spacingAndGlyphs">170.00</text><line x1="1074.5" y1="252.1" x2="1076.6" y2="252.1" stroke="#444" stroke-width="1"/><text x="1076.8" y="254.8" font-size="8.6" fill="#222" stroke="#222" stroke-width="0.25" textLength="19" lengthAdjust="spacingAndGlyphs">180.00</text><line x1="1074.5" y1="210.1" x2="1076.6" y2="210.1" stroke="#444" stroke-width="1"/><text x="1076.8" y="212.8" font-size="8.6" fill="#222" stroke="#222" stroke-width="0.25" textLength="19" lengthAdjust="spacingAndGlyphs">190.00</text><line x1="1074.5" y1="168.1" x2="1076.6" y2="168.1" stroke="#444" stroke-width="1"/><text x="1076.8" y="170.8" font-size="8.6" fill="#222" stroke="#222" stroke-width="0.25" textLength="19" lengthAdjust="spacingAndGlyphs">200.00</text><line x1="1074.5" y1="126.2" x2="1076.6" y2="126.2" stroke="#444" stroke-width="1"/><text x="1076.8" y="128.9" font-size="8.6" fill="#222" stroke="#222" stroke-width="0.25" textLength="19" lengthAdjust="spacingAndGlyphs">210.00</text><line x1="1074.5" y1="84.2" x2="1076.6" y2="84.2" stroke="#444" stroke-width="1"/><text x="1076.8" y="86.9" font-size="8.6" fill="#222" stroke="#222" stroke-width="0.25" textLength="19" lengthAdjust="spacingAndGlyphs">220.00</text><line x1="1074.5" y1="42.2" x2="1076.6" y2="42.2" stroke="#444" stroke-width="1"/><text x="1076.8" y="44.9" font-size="8.6" fill="#222" stroke="#222" stroke-width="0.25" textLength="19" lengthAdjust="spacingAndGlyphs">230.00</text><path d="M1074.2,463.6 L1076.3,459.2 L1099.2,459.2 L1099.2,468 L1076.3,468 Z" fill="#000"/><text x="1077" y="466.9" font-size="8" fill="#fff" textLength="21" lengthAdjust="spacingAndGlyphs">129.70</text><line x1="19.2" y1="504.5" x2="19.2" y2="506.3" stroke="#444" stroke-width="1"/><text transform="translate(19.2,514.2) scale(0.8,1)" font-size="8.2" fill="#222" stroke="#222" stroke-width="0.2" text-anchor="middle">6</text><line x1="47.8" y1="504.5" x2="47.8" y2="506.3" stroke="#444" stroke-width="1"/><text transform="translate(47.8,514.2) scale(0.8,1)" font-size="8.2" fill="#222" stroke="#222" stroke-width="0.2" text-anchor="middle">13</text><line x1="76.7" y1="504.5" x2="76.7" y2="506.3" stroke="#444" stroke-width="1"/><text transform="translate(76.7,514.2) scale(0.8,1)" font-size="8.2" fill="#222" stroke="#222" stroke-width="0.2" text-anchor="middle">20</text><line x1="105.3" y1="504.5" x2="105.3" y2="506.3" stroke="#444" stroke-width="1"/><text transform="translate(105.3,514.2) scale(0.8,1)" font-size="8.2" fill="#222" stroke="#222" stroke-width="0.2" text-anchor="middle">27</text><line x1="133.9" y1="504.5" x2="133.9" y2="507.8" stroke="#444" stroke-width="1"/><text transform="translate(133.9,514.2) scale(0.8,1)" font-size="8.2" fill="#222" stroke="#222" stroke-width="0.2" text-anchor="middle">11'14</text><line x1="162.8" y1="504.5" x2="162.8" y2="506.3" stroke="#444" stroke-width="1"/><text transform="translate(162.8,514.2) scale(0.8,1)" font-size="8.2" fill="#222" stroke="#222" stroke-width="0.2" text-anchor="middle">10</text><line x1="191" y1="504.5" x2="191" y2="506.3" stroke="#444" stroke-width="1"/><text transform="translate(191,514.2) scale(0.8,1)" font-size="8.2" fill="#222" stroke="#222" stroke-width="0.2" text-anchor="middle">17</text><line x1="219.6" y1="504.5" x2="219.6" y2="506.3" stroke="#444" stroke-width="1"/><text transform="translate(219.6,514.2) scale(0.8,1)" font-size="8.2" fill="#222" stroke="#222" stroke-width="0.2" text-anchor="middle">24</text><line x1="242.9" y1="504.5" x2="242.9" y2="507.8" stroke="#444" stroke-width="1"/><text transform="translate(242.9,514.2) scale(0.8,1)" font-size="8.2" fill="#222" stroke="#222" stroke-width="0.2" text-anchor="middle">12'14</text><line x1="271" y1="504.5" x2="271" y2="506.3" stroke="#444" stroke-width="1"/><text transform="translate(271,514.2) scale(0.8,1)" font-size="8.2" fill="#222" stroke="#222" stroke-width="0.2" text-anchor="middle">8</text><line x1="300" y1="504.5" x2="300" y2="506.3" stroke="#444" stroke-width="1"/><text transform="translate(300,514.2) scale(0.8,1)" font-size="8.2" fill="#222" stroke="#222" stroke-width="0.2" text-anchor="middle">15</text><line x1="329" y1="504.5" x2="329" y2="506.3" stroke="#444" stroke-width="1"/><text transform="translate(329,514.2) scale(0.8,1)" font-size="8.2" fill="#222" stroke="#222" stroke-width="0.2" text-anchor="middle">22</text><line x1="351.5" y1="504.5" x2="351.5" y2="506.3" stroke="#444" stroke-width="1"/><text transform="translate(351.5,514.2) scale(0.8,1)" font-size="8.2" fill="#222" stroke="#222" stroke-width="0.2" text-anchor="middle">29</text><line x1="368.4" y1="504.5" x2="368.4" y2="507.8" stroke="#444" stroke-width="1"/><text transform="translate(368.4,514.2) scale(0.8,1)" font-size="8.2" fill="#222" stroke="#222" stroke-width="0.2" text-anchor="middle">'15</text><line x1="403.7" y1="504.5" x2="403.7" y2="506.3" stroke="#444" stroke-width="1"/><text transform="translate(403.7,514.2) scale(0.8,1)" font-size="8.2" fill="#222" stroke="#222" stroke-width="0.2" text-anchor="middle">12</text><line x1="432.3" y1="504.5" x2="432.3" y2="506.3" stroke="#444" stroke-width="1"/><text transform="translate(432.3,514.2) scale(0.8,1)" font-size="8.2" fill="#222" stroke="#222" stroke-width="0.2" text-anchor="middle">20</text><line x1="455.2" y1="504.5" x2="455.2" y2="506.3" stroke="#444" stroke-width="1"/><text transform="translate(455.2,514.2) scale(0.8,1)" font-size="8.2" fill="#222" stroke="#222" stroke-width="0.2" text-anchor="middle">26</text><line x1="483.8" y1="504.5" x2="483.8" y2="507.8" stroke="#444" stroke-width="1"/><text transform="translate(483.8,514.2) scale(0.8,1)" font-size="8.2" fill="#222" stroke="#222" stroke-width="0.2" text-anchor="middle">2'15</text><line x1="512.4" y1="504.5" x2="512.4" y2="506.3" stroke="#444" stroke-width="1"/><text transform="translate(512.4,514.2) scale(0.8,1)" font-size="8.2" fill="#222" stroke="#222" stroke-width="0.2" text-anchor="middle">9</text><line x1="541" y1="504.5" x2="541" y2="506.3" stroke="#444" stroke-width="1"/><text transform="translate(541,514.2) scale(0.8,1)" font-size="8.2" fill="#222" stroke="#222" stroke-width="0.2" text-anchor="middle">17</text><line x1="564.2" y1="504.5" x2="564.2" y2="506.3" stroke="#444" stroke-width="1"/><text transform="translate(564.2,514.2) scale(0.8,1)" font-size="8.2" fill="#222" stroke="#222" stroke-width="0.2" text-anchor="middle">23</text><line x1="592.8" y1="504.5" x2="592.8" y2="507.8" stroke="#444" stroke-width="1"/><text transform="translate(592.8,514.2) scale(0.8,1)" font-size="8.2" fill="#222" stroke="#222" stroke-width="0.2" text-anchor="middle">3'15</text><line x1="621.4" y1="504.5" x2="621.4" y2="506.3" stroke="#444" stroke-width="1"/><text transform="translate(621.4,514.2) scale(0.8,1)" font-size="8.2" fill="#222" stroke="#222" stroke-width="0.2" text-anchor="middle">9</text><line x1="650.3" y1="504.5" x2="650.3" y2="506.3" stroke="#444" stroke-width="1"/><text transform="translate(650.3,514.2) scale(0.8,1)" font-size="8.2" fill="#222" stroke="#222" stroke-width="0.2" text-anchor="middle">16</text><line x1="678.9" y1="504.5" x2="678.9" y2="506.3" stroke="#444" stroke-width="1"/><text transform="translate(678.9,514.2) scale(0.8,1)" font-size="8.2" fill="#222" stroke="#222" stroke-width="0.2" text-anchor="middle">23</text><line x1="707.5" y1="504.5" x2="707.5" y2="506.3" stroke="#444" stroke-width="1"/><text transform="translate(707.5,514.2) scale(0.8,1)" font-size="8.2" fill="#222" stroke="#222" stroke-width="0.2" text-anchor="middle">30</text><line x1="719.2" y1="504.5" x2="719.2" y2="507.8" stroke="#444" stroke-width="1"/><text transform="translate(719.2,514.2) scale(0.8,1)" font-size="8.2" fill="#222" stroke="#222" stroke-width="0.2" text-anchor="middle">4'15</text><line x1="731.1" y1="504.5" x2="731.1" y2="506.3" stroke="#444" stroke-width="1"/><text transform="translate(731.1,514.2) scale(0.8,1)" font-size="8.2" fill="#222" stroke="#222" stroke-width="0.2" text-anchor="middle">6</text><line x1="759.4" y1="504.5" x2="759.4" y2="506.3" stroke="#444" stroke-width="1"/><text transform="translate(759.4,514.2) scale(0.8,1)" font-size="8.2" fill="#222" stroke="#222" stroke-width="0.2" text-anchor="middle">13</text><line x1="788.3" y1="504.5" x2="788.3" y2="506.3" stroke="#444" stroke-width="1"/><text transform="translate(788.3,514.2) scale(0.8,1)" font-size="8.2" fill="#222" stroke="#222" stroke-width="0.2" text-anchor="middle">20</text><line x1="816.9" y1="504.5" x2="816.9" y2="506.3" stroke="#444" stroke-width="1"/><text transform="translate(816.9,514.2) scale(0.8,1)" font-size="8.2" fill="#222" stroke="#222" stroke-width="0.2" text-anchor="middle">27</text><line x1="840" y1="504.5" x2="840" y2="507.8" stroke="#444" stroke-width="1"/><text transform="translate(840,514.2) scale(0.8,1)" font-size="8.2" fill="#222" stroke="#222" stroke-width="0.2" text-anchor="middle">5'15</text><line x1="874" y1="504.5" x2="874" y2="506.3" stroke="#444" stroke-width="1"/><text transform="translate(874,514.2) scale(0.8,1)" font-size="8.2" fill="#222" stroke="#222" stroke-width="0.2" text-anchor="middle">11</text><line x1="902.6" y1="504.5" x2="902.6" y2="506.3" stroke="#444" stroke-width="1"/><text transform="translate(902.6,514.2) scale(0.8,1)" font-size="8.2" fill="#222" stroke="#222" stroke-width="0.2" text-anchor="middle">18</text><line x1="931.2" y1="504.5" x2="931.2" y2="506.3" stroke="#444" stroke-width="1"/><text transform="translate(931.2,514.2) scale(0.8,1)" font-size="8.2" fill="#222" stroke="#222" stroke-width="0.2" text-anchor="middle">26</text><line x1="954.4" y1="504.5" x2="954.4" y2="507.8" stroke="#444" stroke-width="1"/><text transform="translate(954.4,514.2) scale(0.8,1)" font-size="8.2" fill="#222" stroke="#222" stroke-width="0.2" text-anchor="middle">6'15</text><line x1="983.4" y1="504.5" x2="983.4" y2="506.3" stroke="#444" stroke-width="1"/><text transform="translate(983.4,514.2) scale(0.8,1)" font-size="8.2" fill="#222" stroke="#222" stroke-width="0.2" text-anchor="middle">8</text><line x1="1012" y1="504.5" x2="1012" y2="506.3" stroke="#444" stroke-width="1"/><text transform="translate(1012,514.2) scale(0.8,1)" font-size="8.2" fill="#222" stroke="#222" stroke-width="0.2" text-anchor="middle">15</text><line x1="1040.6" y1="504.5" x2="1040.6" y2="506.3" stroke="#444" stroke-width="1"/><text transform="translate(1040.6,514.2) scale(0.8,1)" font-size="8.2" fill="#222" stroke="#222" stroke-width="0.2" text-anchor="middle">22</text><line x1="1069.1" y1="504.5" x2="1069.1" y2="506.3" stroke="#444" stroke-width="1"/><text transform="translate(1069.1,514.2) scale(0.8,1)" font-size="8.2" fill="#222" stroke="#222" stroke-width="0.2" text-anchor="middle">29</text></svg></body></html>
